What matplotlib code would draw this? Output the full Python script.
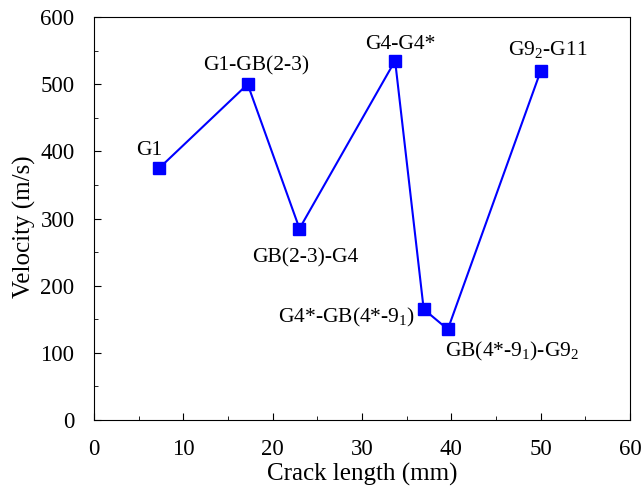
import numpy as np
import matplotlib.pyplot as plt
from matplotlib.ticker import MultipleLocator

plt.rcParams['font.family'] = ['Liberation Serif', 'DejaVu Serif']
plt.rcParams['mathtext.fontset'] = 'custom'
plt.rcParams['mathtext.rm'] = 'Liberation Serif'

crack_length = [7.3, 17.2, 23.0, 33.7, 36.9, 39.6, 50.0]
velocity = [375, 500, 285, 535, 165, 135, 520]
labels = ['G1', 'G1-GB(2-3)', 'GB(2-3)-G4', 'G4-G4*',
          'G4*-GB(4*-9$_1$)', 'GB(4*-9$_1$)-G9$_2$', 'G9$_2$-G11']
# label offsets (points) and alignment
offsets = [(-7, 13), (6, 13), (4, -21), (4, 12), (-6, -6), (46, -16), (5, 15)]
aligns = ['center', 'center', 'center', 'center', 'right', 'center', 'center']

fig = plt.figure(figsize=(6.41, 4.87), dpi=100)
ax = fig.add_axes([0.1466, 0.1376, 0.8364, 0.8274])

ax.plot(crack_length, velocity, color='blue', lw=1.5, marker='s', ms=8)

for x, y, t, off, ha in zip(crack_length, velocity, labels, offsets, aligns):
    ax.annotate(t, (x, y), xytext=off, textcoords='offset points',
                ha=ha, va='center', fontsize=15.5)

ax.set_xlim(0, 60)
ax.set_ylim(0, 600)
ax.xaxis.set_major_locator(MultipleLocator(10))
ax.xaxis.set_minor_locator(MultipleLocator(5))
ax.yaxis.set_major_locator(MultipleLocator(100))
ax.yaxis.set_minor_locator(MultipleLocator(50))
ax.tick_params(which='both', direction='in', top=False, right=False, labelsize=16.5)
ax.tick_params(which='major', length=5)
ax.tick_params(which='minor', length=3)
ax.tick_params(axis='x', pad=14)
ax.tick_params(axis='y', pad=14)
ax.set_xlabel('Crack length (mm)', fontsize=18, labelpad=2)
ax.set_ylabel('Velocity (m/s)', fontsize=18)
ax.yaxis.set_label_coords(-0.108, 0.48)

plt.savefig('out.png', dpi=100)
